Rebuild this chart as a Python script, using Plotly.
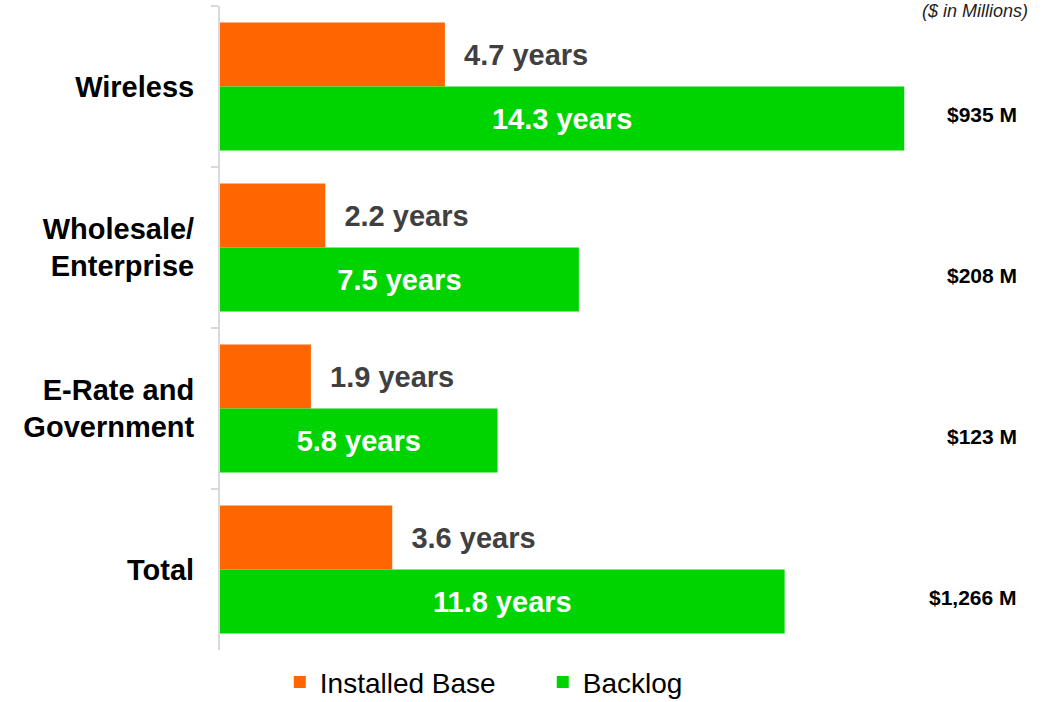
import plotly.graph_objects as go

# data
categories = ["Wireless", "Wholesale/<br>Enterprise", "E-Rate and<br>Government", "Total"]
installed_base_years = [4.7, 2.2, 1.9, 3.6]
backlog_years = [14.3, 7.5, 5.8, 11.8]
backlog_dollars = ["$935 M", "$208 M", "$123 M", "$1,266 M"]

ORANGE = "#ff6600"
GREEN = "#00d400"
FONT = "Liberation Sans, Arial, sans-serif"

fig = go.Figure()

fig.add_trace(go.Bar(
    y=categories,
    x=installed_base_years,
    orientation="h",
    name="Installed Base",
    marker=dict(color=ORANGE, line=dict(width=0)),
    text=[f"  {v} years" for v in installed_base_years],
    textposition="outside",
    textfont=dict(family=FONT, size=29, color="#404040", weight="bold"),
    cliponaxis=False,
))

fig.add_trace(go.Bar(
    y=categories,
    x=backlog_years,
    orientation="h",
    name="Backlog",
    marker=dict(color=GREEN, line=dict(width=0)),
    text=[f"{v} years" for v in backlog_years],
    textposition="inside",
    insidetextanchor="middle",
    textfont=dict(family=FONT, size=29, color="white", weight="bold"),
))

# dollar amounts on the right of each group
for cat, label in zip(categories, backlog_dollars):
    fig.add_annotation(
        x=1, xref="paper", xanchor="right", xshift=2,
        y=cat, yref="y", yshift=-28,
        text=label, showarrow=False,
        font=dict(family=FONT, size=21, color="black", weight="bold"),
    )

fig.add_annotation(
    x=(1030 - 220) / 797, xref="paper", xanchor="right",
    y=0.992, yref="paper", yanchor="middle",
    text="<i>($ in Millions)</i>", showarrow=False,
    font=dict(family=FONT, size=18, color="#222222"),
)

fig.update_layout(
    width=1046,
    height=702,
    margin=dict(l=220, r=29, t=6, b=52, autoexpand=False),
    paper_bgcolor="white",
    plot_bgcolor="white",
    barmode="group",
    bargap=0.205,
    bargroupgap=0,
    font=dict(family=FONT, color="black"),
    legend=dict(
        orientation="h",
        x=0.075, xanchor="left",
        y=-0.05, yanchor="middle",
        font=dict(family=FONT, size=28, color="black"),
        itemwidth=30,
        entrywidth=218,
        entrywidthmode="pixels",
    ),
    xaxis=dict(
        range=[0, 797 / 47.85],
        visible=False,
        showgrid=False,
        zeroline=False,
    ),
    yaxis=dict(
        autorange="reversed",
        automargin=False,
        showline=True,
        linecolor="#d9d9d9",
        linewidth=2,
        ticks="outside",
        tickson="boundaries",
        ticklen=7,
        tickcolor="#d9d9d9",
        tickwidth=2,
        ticklabelstandoff=18,
        tickfont=dict(family=FONT, size=29, color="black", weight="bold"),
        showgrid=False,
        zeroline=False,
    ),
)

fig.write_html(
    "out.html",
    config={"displayModeBar": False},
    post_script="document.body.style.margin='0';",
)
